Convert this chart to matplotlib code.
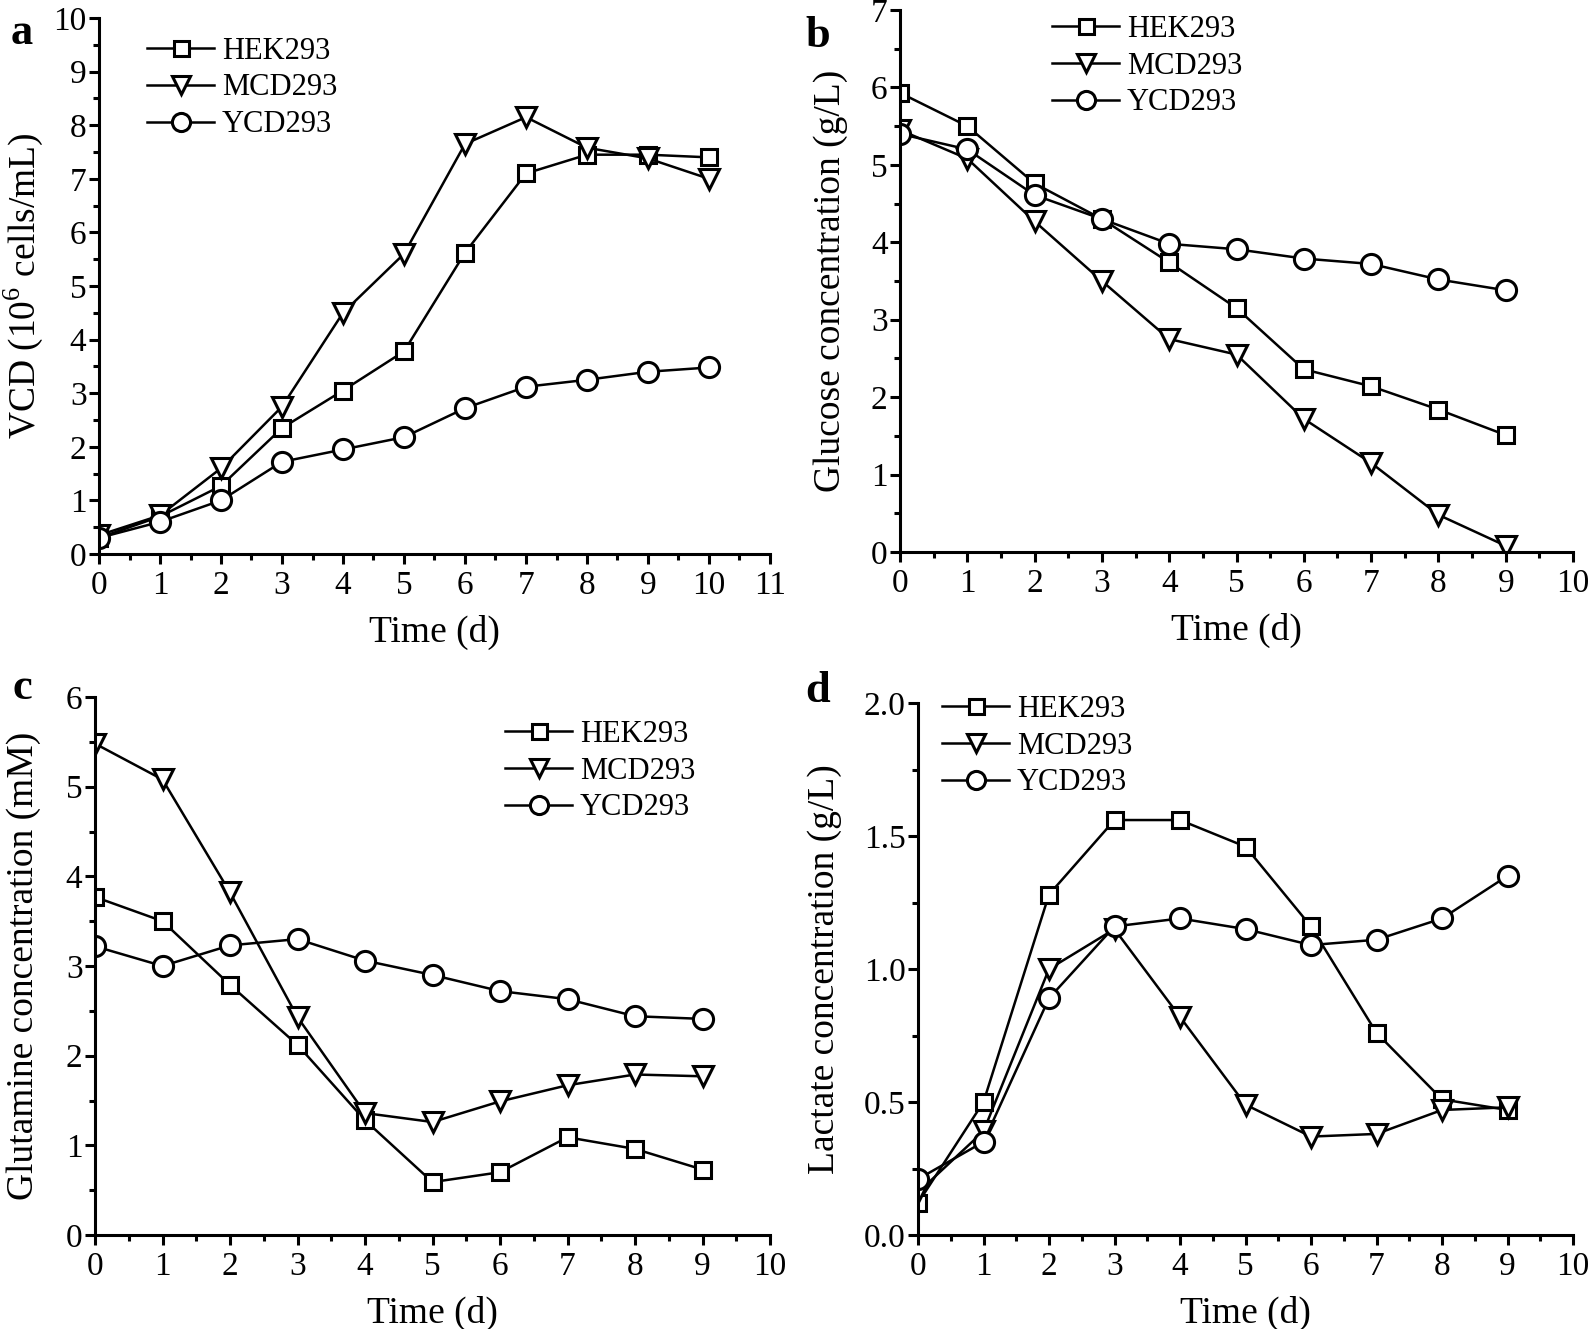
import numpy as np
import matplotlib
matplotlib.use("Agg")
import matplotlib.pyplot as plt
from matplotlib.ticker import MultipleLocator

plt.rcParams['font.family'] = ['Liberation Serif', 'DejaVu Serif']
plt.rcParams['mathtext.fontset'] = 'custom'
plt.rcParams['mathtext.rm'] = 'Liberation Serif'

names = ["HEK293", "MCD293", "YCD293"]
markers = ["s", "v", "o"]
msizes = [12, 14.5, 14.5]

# a: viable cell density
day_a = np.arange(0, 11)
vcd_hek = [0.30, 0.70, 1.27, 2.35, 3.05, 3.78, 5.62, 7.10, 7.45, 7.45, 7.40]
vcd_mcd = [0.35, 0.72, 1.60, 2.75, 4.50, 5.60, 7.65, 8.15, 7.58, 7.38, 7.00]
vcd_ycd = [0.30, 0.60, 1.00, 1.72, 1.95, 2.18, 2.72, 3.12, 3.25, 3.40, 3.48]

# b: glucose
day = np.arange(0, 10)
glc_hek = [5.93, 5.50, 4.76, 4.30, 3.74, 3.15, 2.36, 2.14, 1.84, 1.51]
glc_mcd = [5.45, 5.08, 4.27, 3.50, 2.75, 2.55, 1.72, 1.15, 0.48, 0.08]
glc_ycd = [5.40, 5.20, 4.61, 4.30, 3.98, 3.91, 3.79, 3.72, 3.52, 3.38]

# c: glutamine
gln_hek = [3.77, 3.50, 2.79, 2.12, 1.28, 0.59, 0.70, 1.09, 0.96, 0.73]
gln_mcd = [5.48, 5.08, 3.82, 2.43, 1.36, 1.26, 1.49, 1.67, 1.79, 1.77]
gln_ycd = [3.22, 3.00, 3.23, 3.30, 3.06, 2.90, 2.72, 2.63, 2.44, 2.41]

# d: lactate
lac_hek = [0.12, 0.50, 1.28, 1.56, 1.56, 1.46, 1.16, 0.76, 0.51, 0.47]
lac_mcd = [0.16, 0.39, 1.00, 1.15, 0.82, 0.49, 0.37, 0.38, 0.47, 0.48]
lac_ycd = [0.21, 0.35, 0.89, 1.16, 1.19, 1.15, 1.09, 1.11, 1.19, 1.35]

W, H = 1594, 1329
fig = plt.figure(figsize=(W / 100, H / 100), dpi=100)


def box(left, right, top, bottom):
    return [left / W, 1 - bottom / H, (right - left) / W, (bottom - top) / H]


panels = [
    dict(px=(99, 770, 18, 554), x=day_a, ys=[vcd_hek, vcd_mcd, vcd_ycd],
         xlim=11, ylim=(0, 10), ymaj=1, ymin=0.5, fmt="%d",
         ylabel="VCD (10$^6$ cells/mL)", ylab_x=45, leg=(147, 90), letter=("a", 22, 33)),
    dict(px=(900, 1573, 10, 552), x=day, ys=[glc_hek, glc_mcd, glc_ycd],
         xlim=10, ylim=(0, 7), ymaj=1, ymin=0.5, fmt="%d",
         ylabel="Glucose concentration (g/L)", ylab_x=848, leg=(1052, 68), letter=("b", 818, 36)),
    dict(px=(95, 770, 697, 1235), x=day, ys=[gln_hek, gln_mcd, gln_ycd],
         xlim=10, ylim=(0, 6), ymaj=1, ymin=0.5, fmt="%d",
         ylabel="Glutamine concentration (mM)", ylab_x=41, leg=(505, 773), letter=("c", 22, 688)),
    dict(px=(918, 1573, 703, 1235), x=day, ys=[lac_hek, lac_mcd, lac_ycd],
         xlim=10, ylim=(0, 2.0), ymaj=0.5, ymin=0.25, fmt="%.1f",
         ylabel="Lactate concentration (g/L)", ylab_x=842, leg=(942, 748), letter=("d", 818, 691)),
]

for p in panels:
    l, r, t, b = p["px"]
    ax = fig.add_axes(box(l, r, t, b))
    for ys, name, m, ms in zip(p["ys"], names, markers, msizes):
        ax.plot(p["x"], ys, color="black", lw=1.8, marker=m, ms=ms,
                mfc="white", mec="black", mew=2.2, label=name)
    ax.set_xlim(0, p["xlim"])
    ax.set_ylim(*p["ylim"])
    ax.xaxis.set_major_locator(MultipleLocator(1))
    ax.xaxis.set_minor_locator(MultipleLocator(0.5))
    ax.yaxis.set_major_locator(MultipleLocator(p["ymaj"]))
    ax.yaxis.set_minor_locator(MultipleLocator(p["ymin"]))
    ax.yaxis.set_major_formatter(plt.FormatStrFormatter(p["fmt"]))
    for s in ["top", "right"]:
        ax.spines[s].set_visible(False)
    for s in ["left", "bottom"]:
        ax.spines[s].set_linewidth(2.2)
    ax.tick_params(which="major", direction="out", length=7, width=2.2, labelsize=24)
    ax.tick_params(which="minor", direction="out", length=4.5, width=2.2)
    ax.tick_params(axis="x", which="major", pad=5)
    ax.tick_params(axis="y", which="major", pad=2)
    ax.set_xlabel("Time (d)", fontsize=27)
    ax.set_ylabel(p["ylabel"], fontsize=27)
    ax.xaxis.set_label_coords(0.5, -61 / (b - t))
    ax.yaxis.set_label_coords((p["ylab_x"] - l) / (r - l), 0.5)
    lx, ly = p["leg"]
    ax.legend(loc="center left", bbox_to_anchor=((lx - l) / (r - l), (b - ly + 2) / (b - t)),
              frameon=False, fontsize=22, handlelength=2.2, handletextpad=0.25,
              labelspacing=0.26, borderpad=0, borderaxespad=0, markerscale=0.9)
    txt, tx, ty = p["letter"]
    fig.text(tx / W, 1 - ty / H, txt, fontsize=32, fontweight="bold", ha="center", va="center")

fig.savefig("out.png", dpi=100, facecolor="white")
